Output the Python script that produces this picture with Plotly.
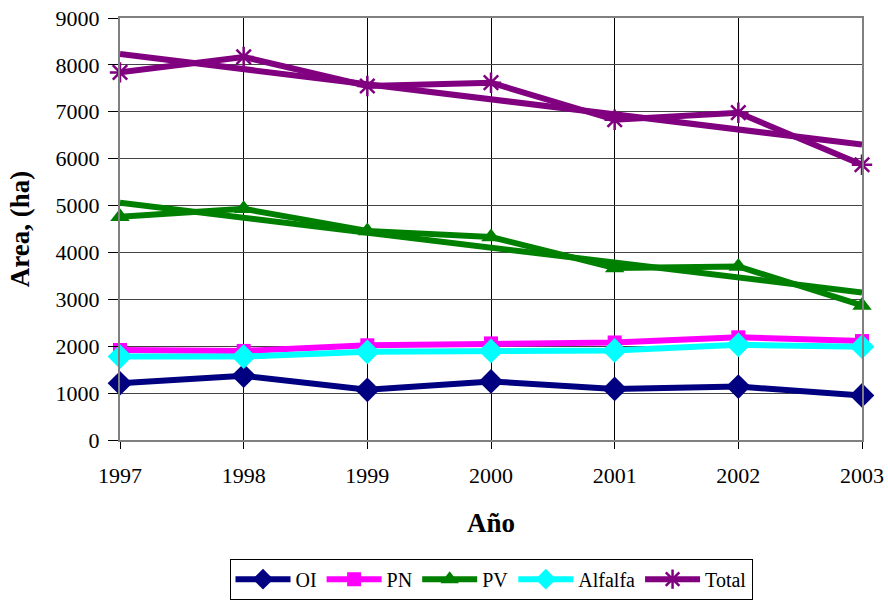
import numpy as np
import plotly.graph_objects as go

# Planted area per crop, 1997-2003
years = [1997, 1998, 1999, 2000, 2001, 2002, 2003]
oi = [1210, 1370, 1070, 1250, 1090, 1140, 950]
pn = [1920, 1900, 2020, 2060, 2080, 2190, 2110]
pv = [4760, 4930, 4460, 4330, 3670, 3700, 2870]
alfalfa = [1780, 1780, 1880, 1900, 1910, 2030, 1990]
total = [7840, 8170, 7550, 7620, 6830, 6980, 5870]

series = [
    ("OI", oi, "#000080", "diamond", 19),
    ("PN", pn, "#FF00FF", "square", 14),
    ("PV", pv, "#008000", "triangle-up", 17),
    ("Alfalfa", alfalfa, "#00FFFF", "diamond", 19),
    ("Total", total, "#800080", "asterisk-open", 17),
]

fig = go.Figure()

# Linear trend lines for PV and Total (least squares fit)
for vals, color in [(pv, "#008000"), (total, "#800080")]:
    coef = np.polyfit(years, vals, 1)
    trend = np.polyval(coef, years)
    fig.add_trace(go.Scatter(
        x=years, y=trend, mode="lines",
        line=dict(color=color, width=6),
        showlegend=False, hoverinfo="skip", cliponaxis=False,
    ))

for name, vals, color, symbol, size in series:
    marker = dict(symbol=symbol, size=size, color=color)
    if symbol.startswith("asterisk"):
        marker["line"] = dict(color=color, width=2.5)
    fig.add_trace(go.Scatter(
        x=years, y=vals, mode="lines+markers", name=name,
        line=dict(color=color, width=6),
        marker=marker, cliponaxis=False,
    ))

font_family = "Times New Roman, Liberation Serif, DejaVu Serif, serif"

fig.update_layout(
    width=888, height=602,
    margin=dict(l=120, r=26, t=18, b=162, autoexpand=False),
    paper_bgcolor="white", plot_bgcolor="white",
    font=dict(family=font_family, size=22, color="black"),
    showlegend=True,
    legend=dict(
        orientation="h", x=0.5, xanchor="center",
        yref="container", y=0.072, yanchor="top",
        bordercolor="black", borderwidth=1, font=dict(size=20),
        itemwidth=55, tracegroupgap=0,
    ),
    xaxis=dict(
        range=[1997, 2003], tickmode="array", tickvals=years,
        ticks="outside", ticklen=7, tickcolor="black",
        ticklabelstandoff=8,
        showgrid=True, gridcolor="black", gridwidth=1,
        showline=True, linecolor="#808080", linewidth=2, mirror=True,
        zeroline=False, automargin=False,
        title=dict(text="<b>Año</b>", font=dict(size=27), standoff=26),
    ),
    yaxis=dict(
        range=[0, 9000], tickmode="array",
        tickvals=list(range(0, 9001, 1000)),
        ticks="outside", ticklen=10, tickcolor="black",
        ticklabelstandoff=4,
        showgrid=True, gridcolor="#444444", gridwidth=1,
        showline=True, linecolor="#808080", linewidth=2, mirror=True,
        zeroline=False, automargin=False,
        title=dict(text="<b>Area, (ha)</b>", font=dict(size=27), standoff=18),
    ),
)

fig.write_html("out.html")
